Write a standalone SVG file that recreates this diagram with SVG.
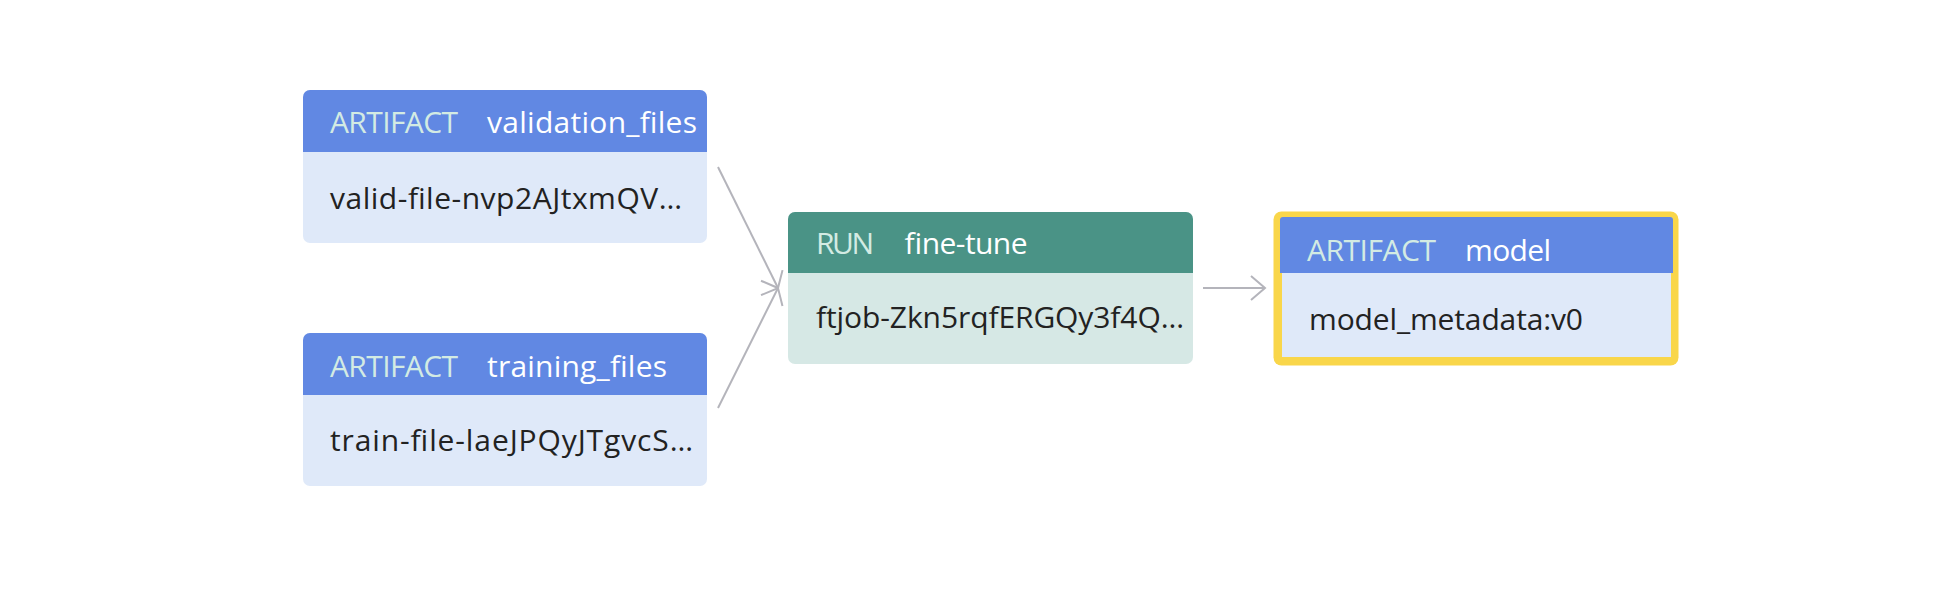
<svg xmlns="http://www.w3.org/2000/svg" width="1936" height="592" viewBox="0 0 1936 592">
  <style>
    text { font-family: "Open Sans", "Noto Sans", "Liberation Sans", sans-serif; font-size: 30px; }
    .kind { fill: #d3ebe3; }
    .name { fill: #ffffff; }
    .body { fill: #222222; }
    .artHead { fill: #6188e3; }
    .artBody { fill: #dfe9f9; }
    .runHead { fill: #4a9386; }
    .runBody { fill: #d6e8e5; }
    .edge { stroke: #b4b4bb; stroke-width: 2; fill: none; }
  </style>
  <defs>
    <marker id="arrow" markerUnits="userSpaceOnUse" markerWidth="40" markerHeight="40" viewBox="-20 -20 40 40" refX="0" refY="0" orient="auto">
      <path d="M -14 -12 L 0 0 L -14 12" fill="none" stroke="#b4b4bb" stroke-width="2"/>
    </marker>
  </defs>
  <rect width="1936" height="592" fill="#ffffff"/>

  <g id="connectors">
    <line class="edge" x1="718" y1="167" x2="778" y2="288" marker-end="url(#arrow)"/>
    <line class="edge" x1="718" y1="408" x2="778" y2="288" marker-end="url(#arrow)"/>
    <line class="edge" x1="1203" y1="288" x2="1265" y2="288" marker-end="url(#arrow)"/>
  </g>

  <g id="validation_files">
    <rect class="artBody" x="303" y="90" width="404" height="153" rx="7"/>
    <path class="artHead" d="M303 152 V97 a7 7 0 0 1 7 -7 H700 a7 7 0 0 1 7 7 V152 Z"/>
    <text class="kind" x="330" y="133" textLength="128">ARTIFACT</text>
    <text class="name" x="487" y="133" textLength="210">validation_files</text>
    <text class="body" x="330" y="209" textLength="352">valid-file-nvp2AJtxmQV…</text>
  </g>

  <g id="training_files">
    <rect class="artBody" x="303" y="333" width="404" height="153" rx="7"/>
    <path class="artHead" d="M303 395 V340 a7 7 0 0 1 7 -7 H700 a7 7 0 0 1 7 7 V395 Z"/>
    <text class="kind" x="330" y="377" textLength="128">ARTIFACT</text>
    <text class="name" x="487" y="377" textLength="180">training_files</text>
    <text class="body" x="330" y="451" textLength="363">train-file-laeJPQyJTgvcS…</text>
  </g>

  <g id="fine-tune">
    <rect class="runBody" x="788" y="212" width="405" height="152" rx="7"/>
    <path class="runHead" d="M788 273 V219 a7 7 0 0 1 7 -7 H1186 a7 7 0 0 1 7 7 V273 Z"/>
    <text class="kind" x="816" y="254" textLength="58">RUN</text>
    <text class="name" x="904" y="254" textLength="123">fine-tune</text>
    <text class="body" x="816" y="328" textLength="368">ftjob-Zkn5rqfERGQy3f4Q…</text>
  </g>

  <g id="model">
    <rect x="1273.5" y="211.5" width="405" height="154" rx="8" fill="#f9d64a"/>
    <path class="artHead" d="M1280 273 V220 a3 3 0 0 1 3 -3 H1670 a3 3 0 0 1 3 3 V273 Z"/>
    <rect class="artBody" x="1282" y="273" width="389" height="84"/>
    <text class="kind" x="1307" y="261" textLength="129">ARTIFACT</text>
    <text class="name" x="1465" y="261" textLength="86">model</text>
    <text class="body" x="1309" y="330" textLength="274">model_metadata:v0</text>
  </g>
</svg>
